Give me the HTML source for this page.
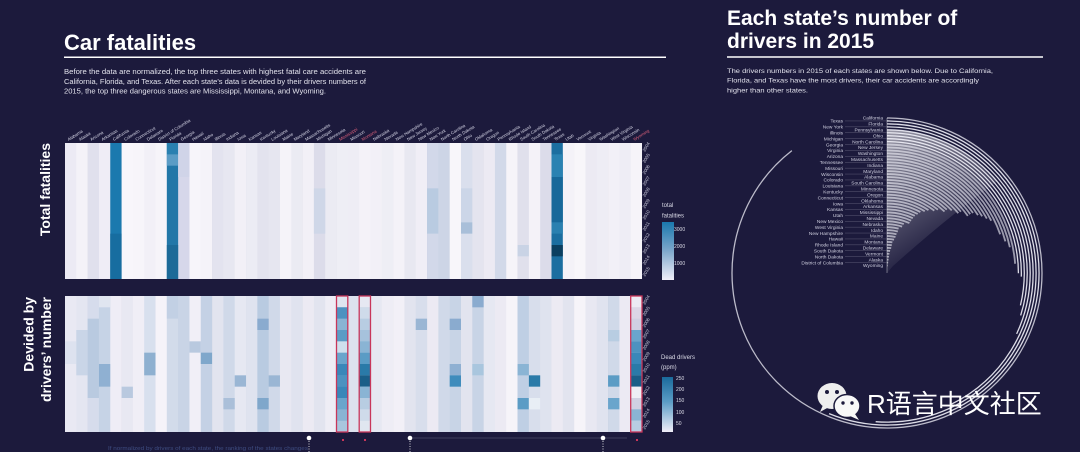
<!DOCTYPE html>
<html><head><meta charset="utf-8">
<style>html,body{margin:0;padding:0;background:#1c1a3c;}svg{display:block}</style>
</head><body>
<svg width="1080" height="452" viewBox="0 0 1080 452" xmlns="http://www.w3.org/2000/svg" font-family="'Liberation Sans', 'Noto Sans CJK SC', sans-serif">
<defs>
<linearGradient id="gTop" x1="0" y1="0" x2="0" y2="1"><stop offset="0" stop-color="#1a78ad"/><stop offset="0.5" stop-color="#7fa8cc"/><stop offset="1" stop-color="#f0eef8"/></linearGradient>
<linearGradient id="gBot" x1="0" y1="0" x2="0" y2="1"><stop offset="0" stop-color="#1a6a9c"/><stop offset="0.45" stop-color="#5b9cc5"/><stop offset="1" stop-color="#f0eef8"/></linearGradient>
<linearGradient id="gFan" gradientUnits="userSpaceOnUse" x1="895" y1="128" x2="965" y2="238"><stop offset="0" stop-color="#ffffff" stop-opacity="0.55"/><stop offset="0.55" stop-color="#ffffff" stop-opacity="0.25"/><stop offset="1" stop-color="#ffffff" stop-opacity="0"/></linearGradient>
</defs>
<rect width="1080" height="452" fill="#1c1a3c"/>

<!-- Left header -->
<text x="64" y="50" font-size="22" font-weight="bold" fill="#ffffff">Car fatalities</text>
<line x1="64" y1="57.3" x2="666" y2="57.3" stroke="#ffffff" stroke-width="1.5"/>
<g font-size="7" fill="#e2e2ec">
<text x="64" y="74" textLength="302" lengthAdjust="spacingAndGlyphs">Before the data are normalized, the top three states with highest fatal care accidents are</text>
<text x="64" y="84" textLength="302" lengthAdjust="spacingAndGlyphs">California, Florida, and Texas. After each state's data is devided by their drivers numbers of</text>
<text x="64" y="93.5" textLength="262" lengthAdjust="spacingAndGlyphs">2015, the top three dangerous states are Mississippi, Montana, and Wyoming.</text>
</g>

<!-- Right header -->
<text x="727" y="25" font-size="21" font-weight="bold" fill="#ffffff">Each state’s number of</text>
<text x="727" y="48" font-size="21" font-weight="bold" fill="#ffffff">drivers in 2015</text>
<line x1="727" y1="57" x2="1043" y2="57" stroke="#ffffff" stroke-width="1.5"/>
<g font-size="6.8" fill="#e2e2ec">
<text x="727" y="73" textLength="266" lengthAdjust="spacingAndGlyphs">The drivers numbers in 2015 of each states are shown below. Due to California,</text>
<text x="727" y="82.5" textLength="252" lengthAdjust="spacingAndGlyphs">Florida, and Texas have the most drivers, their car accidents are accordingly</text>
<text x="727" y="92.3" textLength="81" lengthAdjust="spacingAndGlyphs">higher than other states.</text>
</g>

<!-- Side labels -->
<text transform="translate(50,143) rotate(-90)" text-anchor="end" font-size="14" font-weight="bold" fill="#ffffff">Total fatalities</text>
<text transform="translate(33.5,297) rotate(-90)" text-anchor="end" font-size="14" font-weight="bold" fill="#ffffff">Devided by</text>
<text transform="translate(51,297) rotate(-90)" text-anchor="end" font-size="14" font-weight="bold" fill="#ffffff">drivers’ number</text>

<!-- Top heatmap -->
<g transform="translate(65,143) scale(11.314,11.333)">
<rect x="0" y="0" width="1.03" height="12" fill="#eceaf4"/>
<rect x="1" y="0" width="1.03" height="12" fill="#f4f2f8"/>
<rect x="2" y="0" width="1.03" height="12" fill="#e0e0ed"/>
<rect x="3" y="0" width="1.03" height="12" fill="#efedf6"/>
<rect x="4" y="0" width="1.03" height="12" fill="#1b79ae"/>
<rect x="5" y="0" width="1.03" height="12" fill="#f8f6fb"/>
<rect x="6" y="0" width="1.03" height="12" fill="#f7f5fa"/>
<rect x="7" y="0" width="1.03" height="12" fill="#f2f0f7"/>
<rect x="8" y="0" width="1.03" height="12" fill="#f6f4f9"/>
<rect x="9" y="0" width="1.03" height="12" fill="#2277a8"/>
<rect x="10" y="0" width="1.03" height="12" fill="#d6d7ea"/>
<rect x="11" y="0" width="1.03" height="12" fill="#f7f5fa"/>
<rect x="12" y="0" width="1.03" height="12" fill="#f5f3f9"/>
<rect x="13" y="0" width="1.03" height="12" fill="#e3e3ef"/>
<rect x="14" y="0" width="1.03" height="12" fill="#e7e7f1"/>
<rect x="15" y="0" width="1.03" height="12" fill="#f2f0f7"/>
<rect x="16" y="0" width="1.03" height="12" fill="#ececf4"/>
<rect x="17" y="0" width="1.03" height="12" fill="#e3e3ee"/>
<rect x="18" y="0" width="1.03" height="12" fill="#e6e6f0"/>
<rect x="19" y="0" width="1.03" height="12" fill="#f5f3f9"/>
<rect x="20" y="0" width="1.03" height="12" fill="#ebebf3"/>
<rect x="21" y="0" width="1.03" height="12" fill="#f2f0f7"/>
<rect x="22" y="0" width="1.03" height="12" fill="#dcdcea"/>
<rect x="23" y="0" width="1.03" height="12" fill="#ebebf3"/>
<rect x="24" y="0" width="1.03" height="12" fill="#eeeef5"/>
<rect x="25" y="0" width="1.03" height="12" fill="#eeedf5"/>
<rect x="26" y="0" width="1.03" height="12" fill="#f4f2f8"/>
<rect x="27" y="0" width="1.03" height="12" fill="#f2f0f7"/>
<rect x="28" y="0" width="1.03" height="12" fill="#eeeef5"/>
<rect x="29" y="0" width="1.03" height="12" fill="#f4f2f8"/>
<rect x="30" y="0" width="1.03" height="12" fill="#e8e8f1"/>
<rect x="31" y="0" width="1.03" height="12" fill="#f0eef6"/>
<rect x="32" y="0" width="1.03" height="12" fill="#d2d8e9"/>
<rect x="33" y="0" width="1.03" height="12" fill="#cdd5e6"/>
<rect x="34" y="0" width="1.03" height="12" fill="#f8f6fa"/>
<rect x="35" y="0" width="1.03" height="12" fill="#dadfed"/>
<rect x="36" y="0" width="1.03" height="12" fill="#e4e4ef"/>
<rect x="37" y="0" width="1.03" height="12" fill="#eceaf3"/>
<rect x="38" y="0" width="1.03" height="12" fill="#d2d9e9"/>
<rect x="39" y="0" width="1.03" height="12" fill="#f6f4f9"/>
<rect x="40" y="0" width="1.03" height="12" fill="#e0e0ec"/>
<rect x="41" y="0" width="1.03" height="12" fill="#f4f2f8"/>
<rect x="42" y="0" width="1.03" height="12" fill="#dcdcea"/>
<rect x="43" y="0" width="1.03" height="12" fill="#1b6ea0"/>
<rect x="44" y="0" width="1.03" height="12" fill="#f4f2f8"/>
<rect x="45" y="0" width="1.03" height="12" fill="#f8f6fa"/>
<rect x="46" y="0" width="1.03" height="12" fill="#eceaf3"/>
<rect x="47" y="0" width="1.03" height="12" fill="#eeedf5"/>
<rect x="48" y="0" width="1.03" height="12" fill="#f2f0f7"/>
<rect x="49" y="0" width="1.03" height="12" fill="#eeedf5"/>
<rect x="50" y="0" width="1" height="12" fill="#f6f4f9"/>
<rect x="4" y="8" width="1" height="4" fill="#176da0"/>
<rect x="9" y="0" width="1" height="1" fill="#2a80b0"/>
<rect x="9" y="1" width="1" height="1" fill="#5b9cc5"/>
<rect x="9" y="9" width="1" height="3" fill="#1c6a98"/>
<rect x="10" y="0" width="1" height="3" fill="#d0d4e8"/>
<rect x="22" y="4" width="1" height="4" fill="#cfd7e8"/>
<rect x="32" y="4" width="1" height="4" fill="#b9cbe1"/>
<rect x="35" y="4" width="1" height="3" fill="#ccd6e8"/>
<rect x="35" y="7" width="1" height="1" fill="#a9bfd9"/>
<rect x="40" y="9" width="1" height="1" fill="#c9d3e5"/>
<rect x="43" y="1" width="1" height="2" fill="#2a82b2"/>
<rect x="43" y="3" width="1" height="4" fill="#17689a"/>
<rect x="43" y="7" width="1" height="1" fill="#2a80b0"/>
<rect x="43" y="9" width="1" height="1" fill="#0b3f60"/>
</g>

<!-- Lower heatmap -->
<g transform="translate(65,296) scale(11.314,11.333)">
<rect x="0" y="0" width="1.03" height="12" fill="#e9e9f3"/>
<rect x="1" y="0" width="1.03" height="12" fill="#e4e6f1"/>
<rect x="2" y="0" width="1.03" height="12" fill="#d6dcec"/>
<rect x="3" y="0" width="1.03" height="12" fill="#c6d3e6"/>
<rect x="4" y="0" width="1.03" height="12" fill="#efedf6"/>
<rect x="5" y="0" width="1.03" height="12" fill="#e8e8f2"/>
<rect x="6" y="0" width="1.03" height="12" fill="#f0eef6"/>
<rect x="7" y="0" width="1.03" height="12" fill="#d8e0ee"/>
<rect x="8" y="0" width="1.03" height="12" fill="#f5f3f9"/>
<rect x="9" y="0" width="1.03" height="12" fill="#d2dbea"/>
<rect x="10" y="0" width="1.03" height="12" fill="#c9d4e6"/>
<rect x="11" y="0" width="1.03" height="12" fill="#f1eff7"/>
<rect x="12" y="0" width="1.03" height="12" fill="#c4d1e5"/>
<rect x="13" y="0" width="1.03" height="12" fill="#e2e4ef"/>
<rect x="14" y="0" width="1.03" height="12" fill="#d0d9e9"/>
<rect x="15" y="0" width="1.03" height="12" fill="#e6e8f2"/>
<rect x="16" y="0" width="1.03" height="12" fill="#dfe3ef"/>
<rect x="17" y="0" width="1.03" height="12" fill="#b9cbe1"/>
<rect x="18" y="0" width="1.03" height="12" fill="#d0d9e9"/>
<rect x="19" y="0" width="1.03" height="12" fill="#e8e8f2"/>
<rect x="20" y="0" width="1.03" height="12" fill="#e0e3ef"/>
<rect x="21" y="0" width="1.03" height="12" fill="#eceaf3"/>
<rect x="22" y="0" width="1.03" height="12" fill="#e2e4ef"/>
<rect x="23" y="0" width="1.03" height="12" fill="#eeedf5"/>
<rect x="24" y="0" width="1.03" height="12" fill="#6aa5cc"/>
<rect x="25" y="0" width="1.03" height="12" fill="#dde2ee"/>
<rect x="26" y="0" width="1.03" height="12" fill="#b8cde2"/>
<rect x="27" y="0" width="1.03" height="12" fill="#e6e8f2"/>
<rect x="28" y="0" width="1.03" height="12" fill="#eeedf5"/>
<rect x="29" y="0" width="1.03" height="12" fill="#f2f0f7"/>
<rect x="30" y="0" width="1.03" height="12" fill="#e2e4ef"/>
<rect x="31" y="0" width="1.03" height="12" fill="#d8deec"/>
<rect x="32" y="0" width="1.03" height="12" fill="#eceaf3"/>
<rect x="33" y="0" width="1.03" height="12" fill="#d0d9e9"/>
<rect x="34" y="0" width="1.03" height="12" fill="#c8d4e6"/>
<rect x="35" y="0" width="1.03" height="12" fill="#e2e4ef"/>
<rect x="36" y="0" width="1.03" height="12" fill="#c8d4e6"/>
<rect x="37" y="0" width="1.03" height="12" fill="#e6e8f2"/>
<rect x="38" y="0" width="1.03" height="12" fill="#eceaf3"/>
<rect x="39" y="0" width="1.03" height="12" fill="#f6f4f9"/>
<rect x="40" y="0" width="1.03" height="12" fill="#bfcfe4"/>
<rect x="41" y="0" width="1.03" height="12" fill="#d8deec"/>
<rect x="42" y="0" width="1.03" height="12" fill="#dfe3ef"/>
<rect x="43" y="0" width="1.03" height="12" fill="#eceaf3"/>
<rect x="44" y="0" width="1.03" height="12" fill="#e2e4ef"/>
<rect x="45" y="0" width="1.03" height="12" fill="#f6f4f9"/>
<rect x="46" y="0" width="1.03" height="12" fill="#e8e8f2"/>
<rect x="47" y="0" width="1.03" height="12" fill="#e0e3ef"/>
<rect x="48" y="0" width="1.03" height="12" fill="#d0d9e9"/>
<rect x="49" y="0" width="1.03" height="12" fill="#eceaf3"/>
<rect x="50" y="0" width="1" height="12" fill="#d0d0e2"/>
<rect x="0" y="4" width="1" height="2" fill="#dde2ef"/>
<rect x="1" y="3" width="1" height="4" fill="#c9d5e7"/>
<rect x="2" y="2" width="1" height="7" fill="#b9cae0"/>
<rect x="3" y="0" width="1" height="1" fill="#e0e5f0"/>
<rect x="3" y="6" width="1" height="2" fill="#8fb0d2"/>
<rect x="5" y="8" width="1" height="1" fill="#b9c9df"/>
<rect x="7" y="5" width="1" height="2" fill="#8eb0d0"/>
<rect x="9" y="0" width="1" height="2" fill="#c2d0e4"/>
<rect x="11" y="4" width="1" height="1" fill="#b9c9df"/>
<rect x="12" y="5" width="1" height="1" fill="#7fa7cb"/>
<rect x="14" y="9" width="1" height="1" fill="#aabfd9"/>
<rect x="15" y="7" width="1" height="1" fill="#9ab6d4"/>
<rect x="17" y="2" width="1" height="1" fill="#8aabcf"/>
<rect x="17" y="9" width="1" height="1" fill="#7fa7cb"/>
<rect x="18" y="7" width="1" height="1" fill="#9ab6d4"/>
<rect x="24" y="0" width="1" height="1" fill="#dfe6f0"/>
<rect x="24" y="1" width="1" height="1" fill="#4d92c0"/>
<rect x="24" y="2" width="1" height="1" fill="#8ab4d4"/>
<rect x="24" y="3" width="1" height="1" fill="#5b9cc5"/>
<rect x="24" y="4" width="1" height="1" fill="#cfe0ed"/>
<rect x="24" y="6" width="1" height="1" fill="#3a87b9"/>
<rect x="24" y="7" width="1" height="1" fill="#4d92c0"/>
<rect x="24" y="8" width="1" height="1" fill="#3a87b9"/>
<rect x="24" y="10" width="1" height="1" fill="#8ab4d4"/>
<rect x="24" y="11" width="1" height="1" fill="#a9c6de"/>
<rect x="26" y="0" width="1" height="1" fill="#e6e8f2"/>
<rect x="26" y="1" width="1" height="1" fill="#cfdbea"/>
<rect x="26" y="3" width="1" height="1" fill="#a6c2dc"/>
<rect x="26" y="4" width="1" height="1" fill="#8ab4d4"/>
<rect x="26" y="5" width="1" height="1" fill="#5b9cc5"/>
<rect x="26" y="6" width="1" height="1" fill="#2a7aa8"/>
<rect x="26" y="7" width="1" height="1" fill="#1a5e88"/>
<rect x="26" y="8" width="1" height="1" fill="#8ab4d4"/>
<rect x="26" y="10" width="1" height="1" fill="#cfdbea"/>
<rect x="26" y="11" width="1" height="1" fill="#e0e6f0"/>
<rect x="31" y="2" width="1" height="1" fill="#9ab6d4"/>
<rect x="34" y="2" width="1" height="1" fill="#8aabcf"/>
<rect x="34" y="6" width="1" height="1" fill="#8fb0d2"/>
<rect x="34" y="7" width="1" height="1" fill="#3f8cbc"/>
<rect x="36" y="0" width="1" height="1" fill="#8aabcf"/>
<rect x="36" y="6" width="1" height="1" fill="#a9c6de"/>
<rect x="40" y="6" width="1" height="1" fill="#8ab4d4"/>
<rect x="40" y="9" width="1" height="1" fill="#5b9cc5"/>
<rect x="41" y="7" width="1" height="1" fill="#2a7aa8"/>
<rect x="41" y="9" width="1" height="1" fill="#e8eef5"/>
<rect x="48" y="3" width="1" height="1" fill="#b8cde2"/>
<rect x="48" y="7" width="1" height="1" fill="#5b9cc5"/>
<rect x="48" y="9" width="1" height="1" fill="#6aa5cc"/>
<rect x="50" y="0" width="1" height="1" fill="#eceaf3"/>
<rect x="50" y="1" width="1" height="1" fill="#dcd6e6"/>
<rect x="50" y="3" width="1" height="1" fill="#6aa5cc"/>
<rect x="50" y="4" width="1" height="1" fill="#4d92c0"/>
<rect x="50" y="5" width="1" height="1" fill="#3a87b9"/>
<rect x="50" y="6" width="1" height="1" fill="#2a7aa8"/>
<rect x="50" y="7" width="1" height="1" fill="#1a5e88"/>
<rect x="50" y="8" width="1" height="1" fill="#eeeef5"/>
<rect x="50" y="10" width="1" height="1" fill="#8ab4d4"/>
<rect x="50" y="11" width="1" height="1" fill="#b8cde2"/>
</g>
<g fill="none" stroke="#c8365a" stroke-width="1.3">
<rect x="336.5" y="296" width="11.3" height="136"/>
<rect x="359.2" y="296" width="11.3" height="136"/>
<rect x="630.7" y="296" width="11.3" height="136"/>
</g>

<!-- Column labels -->
<g font-size="4.3" fill="#d8d8e8">
<text transform="translate(68.7,141) rotate(-32)">Alabama</text>
<text transform="translate(80,141) rotate(-32)">Alaska</text>
<text transform="translate(91.3,141) rotate(-32)">Arizona</text>
<text transform="translate(102.6,141) rotate(-32)">Arkansas</text>
<text transform="translate(113.9,141) rotate(-32)">California</text>
<text transform="translate(125.2,141) rotate(-32)">Colorado</text>
<text transform="translate(136.5,141) rotate(-32)">Connecticut</text>
<text transform="translate(147.9,141) rotate(-32)">Delaware</text>
<text transform="translate(159.2,141) rotate(-32)">District of Columbia</text>
<text transform="translate(170.5,141) rotate(-32)">Florida</text>
<text transform="translate(181.8,141) rotate(-32)">Georgia</text>
<text transform="translate(193.1,141) rotate(-32)">Hawaii</text>
<text transform="translate(204.4,141) rotate(-32)">Idaho</text>
<text transform="translate(215.7,141) rotate(-32)">Illinois</text>
<text transform="translate(227.1,141) rotate(-32)">Indiana</text>
<text transform="translate(238.4,141) rotate(-32)">Iowa</text>
<text transform="translate(249.7,141) rotate(-32)">Kansas</text>
<text transform="translate(261,141) rotate(-32)">Kentucky</text>
<text transform="translate(272.3,141) rotate(-32)">Louisiana</text>
<text transform="translate(283.6,141) rotate(-32)">Maine</text>
<text transform="translate(294.9,141) rotate(-32)">Maryland</text>
<text transform="translate(306.3,141) rotate(-32)">Massachusetts</text>
<text transform="translate(317.6,141) rotate(-32)">Michigan</text>
<text transform="translate(328.9,141) rotate(-32)">Minnesota</text>
<text transform="translate(340.2,141) rotate(-32)" fill="#d9607a">Mississippi</text>
<text transform="translate(351.5,141) rotate(-32)">Missouri</text>
<text transform="translate(362.8,141) rotate(-32)" fill="#d9607a">Montana</text>
<text transform="translate(374.1,141) rotate(-32)">Nebraska</text>
<text transform="translate(385.5,141) rotate(-32)">Nevada</text>
<text transform="translate(396.8,141) rotate(-32)">New Hampshire</text>
<text transform="translate(408.1,141) rotate(-32)">New Jersey</text>
<text transform="translate(419.4,141) rotate(-32)">New Mexico</text>
<text transform="translate(430.7,141) rotate(-32)">New York</text>
<text transform="translate(442,141) rotate(-32)">North Carolina</text>
<text transform="translate(453.3,141) rotate(-32)">North Dakota</text>
<text transform="translate(464.7,141) rotate(-32)">Ohio</text>
<text transform="translate(476,141) rotate(-32)">Oklahoma</text>
<text transform="translate(487.3,141) rotate(-32)">Oregon</text>
<text transform="translate(498.6,141) rotate(-32)">Pennsylvania</text>
<text transform="translate(509.9,141) rotate(-32)">Rhode Island</text>
<text transform="translate(521.2,141) rotate(-32)">South Carolina</text>
<text transform="translate(532.5,141) rotate(-32)">South Dakota</text>
<text transform="translate(543.9,141) rotate(-32)">Tennessee</text>
<text transform="translate(555.2,141) rotate(-32)">Texas</text>
<text transform="translate(566.5,141) rotate(-32)">Utah</text>
<text transform="translate(577.8,141) rotate(-32)">Vermont</text>
<text transform="translate(589.1,141) rotate(-32)">Virginia</text>
<text transform="translate(600.4,141) rotate(-32)">Washington</text>
<text transform="translate(611.7,141) rotate(-32)">West Virginia</text>
<text transform="translate(623.1,141) rotate(-32)">Wisconsin</text>
<text transform="translate(634.4,141) rotate(-32)" fill="#d9607a">Wyoming</text>
</g>

<!-- Y tick labels -->
<g font-size="4.5" fill="#d0d0e0">
<text transform="translate(645,152) rotate(-60)">2004</text>
<text transform="translate(645,163.3) rotate(-60)">2005</text>
<text transform="translate(645,174.7) rotate(-60)">2006</text>
<text transform="translate(645,186) rotate(-60)">2007</text>
<text transform="translate(645,197.3) rotate(-60)">2008</text>
<text transform="translate(645,208.7) rotate(-60)">2009</text>
<text transform="translate(645,220) rotate(-60)">2010</text>
<text transform="translate(645,231.3) rotate(-60)">2011</text>
<text transform="translate(645,242.7) rotate(-60)">2012</text>
<text transform="translate(645,254) rotate(-60)">2013</text>
<text transform="translate(645,265.3) rotate(-60)">2014</text>
<text transform="translate(645,276.7) rotate(-60)">2015</text>
<text transform="translate(645,305) rotate(-60)">2004</text>
<text transform="translate(645,316.3) rotate(-60)">2005</text>
<text transform="translate(645,327.7) rotate(-60)">2006</text>
<text transform="translate(645,339) rotate(-60)">2007</text>
<text transform="translate(645,350.3) rotate(-60)">2008</text>
<text transform="translate(645,361.7) rotate(-60)">2009</text>
<text transform="translate(645,373) rotate(-60)">2010</text>
<text transform="translate(645,384.3) rotate(-60)">2011</text>
<text transform="translate(645,395.7) rotate(-60)">2012</text>
<text transform="translate(645,407) rotate(-60)">2013</text>
<text transform="translate(645,418.3) rotate(-60)">2014</text>
<text transform="translate(645,429.7) rotate(-60)">2015</text>
</g>

<!-- Legends -->
<g font-size="6" fill="#dcdce8">
<text x="662" y="207">total</text>
<text x="662" y="217.5">fatalities</text>
<text x="661" y="359">Dead drivers</text>
<text x="661" y="369">(ppm)</text>
</g>
<rect x="662" y="222" width="12" height="58" fill="url(#gTop)"/>
<rect x="662" y="377" width="11" height="55" fill="url(#gBot)"/>
<g font-size="5" fill="#dcdce8">
<text x="674" y="231">3000</text>
<text x="674" y="248">2000</text>
<text x="674" y="265">1000</text>
<text x="676" y="380">250</text>
<text x="676" y="391">200</text>
<text x="676" y="402">150</text>
<text x="676" y="414">100</text>
<text x="676" y="425">50</text>
</g>

<!-- Bottom annotations -->
<line x1="410" y1="438" x2="627" y2="438" stroke="#4a4a66" stroke-width="0.8"/>
<g stroke="#ffffff" stroke-width="0.8" stroke-dasharray="1 1.5">
<line x1="309" y1="441" x2="309" y2="452"/>
<line x1="410" y1="441" x2="410" y2="452"/>
<line x1="603" y1="441" x2="603" y2="452"/>
</g>
<g fill="#ffffff">
<circle cx="309" cy="438" r="2.3"/>
<circle cx="410" cy="438" r="2.3"/>
<circle cx="603" cy="438" r="2.3"/>
</g>
<g fill="#c8365a">
<rect x="342" y="439" width="2" height="2"/>
<rect x="364" y="439" width="2" height="2"/>
<rect x="636" y="439" width="2" height="2"/>
</g>
<text x="108" y="450" font-size="5" fill="#3e4c80" textLength="200" lengthAdjust="spacingAndGlyphs">If normalized by drivers of each state, the ranking of the states changes</text>

<!-- Circle chart: fan shading -->
<path d="M887 273 L887 130 A143 143 0 0 1 997 181.6 Q950 215 893 266 Z" fill="url(#gFan)"/>
<g transform="rotate(-90 887 273)" fill="none" stroke="#f2f2fa" stroke-width="1.3" stroke-opacity="0.9">
<circle cx="887" cy="273" r="155" stroke-dasharray="871.1 2000" stroke-opacity="0.75"/>
<circle cx="887" cy="273" r="152.05" stroke-dasharray="536.9 2000"/>
<circle cx="887" cy="273" r="149.1" stroke-dasharray="479.6 2000"/>
<circle cx="887" cy="273" r="146.15" stroke-dasharray="392.6 2000"/>
<circle cx="887" cy="273" r="143.2" stroke-dasharray="287.7 2000"/>
<circle cx="887" cy="273" r="140.25" stroke-dasharray="263.4 2000"/>
<circle cx="887" cy="273" r="137.3" stroke-dasharray="248.3 2000"/>
<circle cx="887" cy="273" r="134.35" stroke-dasharray="214.6 2000"/>
<circle cx="887" cy="273" r="131.4" stroke-dasharray="206.6 2000"/>
</g>
<g transform="rotate(-90 887 273)" fill="none" stroke="#f2f2fa" stroke-width="1.8" stroke-opacity="0.6">
<circle cx="887" cy="273" r="128.45" stroke-dasharray="192.4 2000"/>
<circle cx="887" cy="273" r="125.5" stroke-dasharray="171.1 2000"/>
<circle cx="887" cy="273" r="122.55" stroke-dasharray="160.4 2000"/>
<circle cx="887" cy="273" r="119.6" stroke-dasharray="148.4 2000"/>
<circle cx="887" cy="273" r="116.65" stroke-dasharray="128.9 2000"/>
<circle cx="887" cy="273" r="113.7" stroke-dasharray="121.8 2000"/>
<circle cx="887" cy="273" r="110.75" stroke-dasharray="114.4 2000"/>
<circle cx="887" cy="273" r="107.8" stroke-dasharray="108.2 2000"/>
<circle cx="887" cy="273" r="104.85" stroke-dasharray="100.8 2000"/>
<circle cx="887" cy="273" r="101.9" stroke-dasharray="97.3 2000"/>
<circle cx="887" cy="273" r="98.95" stroke-dasharray="94.5 2000"/>
<circle cx="887" cy="273" r="96" stroke-dasharray="84.3 2000"/>
<circle cx="887" cy="273" r="93.05" stroke-dasharray="81.2 2000"/>
<circle cx="887" cy="273" r="90.1" stroke-dasharray="72.2 2000"/>
<circle cx="887" cy="273" r="87.15" stroke-dasharray="65.9 2000"/>
<circle cx="887" cy="273" r="84.2" stroke-dasharray="63.3 2000"/>
<circle cx="887" cy="273" r="81.25" stroke-dasharray="55 2000"/>
<circle cx="887" cy="273" r="78.3" stroke-dasharray="50.8 2000"/>
<circle cx="887" cy="273" r="75.35" stroke-dasharray="43.9 2000"/>
<circle cx="887" cy="273" r="72.4" stroke-dasharray="39.7 2000"/>
<circle cx="887" cy="273" r="69.45" stroke-dasharray="34.8 2000"/>
<circle cx="887" cy="273" r="66.5" stroke-dasharray="31.9 2000"/>
<circle cx="887" cy="273" r="63.55" stroke-dasharray="28.8 2000"/>
<circle cx="887" cy="273" r="60.6" stroke-dasharray="26.7 2000"/>
<circle cx="887" cy="273" r="57.65" stroke-dasharray="24.9 2000"/>
<circle cx="887" cy="273" r="54.7" stroke-dasharray="23.1 2000"/>
<circle cx="887" cy="273" r="51.75" stroke-dasharray="17.1 2000"/>
<circle cx="887" cy="273" r="48.8" stroke-dasharray="15.4 2000"/>
<circle cx="887" cy="273" r="45.85" stroke-dasharray="11.8 2000"/>
<circle cx="887" cy="273" r="42.9" stroke-dasharray="11 2000"/>
<circle cx="887" cy="273" r="39.95" stroke-dasharray="9.6 2000"/>
<circle cx="887" cy="273" r="37" stroke-dasharray="8.6 2000"/>
<circle cx="887" cy="273" r="34.05" stroke-dasharray="7.1 2000"/>
<circle cx="887" cy="273" r="31.1" stroke-dasharray="5.4 2000"/>
<circle cx="887" cy="273" r="28.15" stroke-dasharray="4.8 2000"/>
<circle cx="887" cy="273" r="25.2" stroke-dasharray="4.2 2000"/>
<circle cx="887" cy="273" r="22.25" stroke-dasharray="3.1 2000"/>
<circle cx="887" cy="273" r="19.3" stroke-dasharray="2.4 2000"/>
<circle cx="887" cy="273" r="16.35" stroke-dasharray="2 2000"/>
<circle cx="887" cy="273" r="13.4" stroke-dasharray="1.6 2000"/>
<circle cx="887" cy="273" r="10.45" stroke-dasharray="1.2 2000"/>
<circle cx="887" cy="273" r="7.5" stroke-dasharray="0.7 2000"/>
</g>
<line x1="887" y1="118" x2="887" y2="273" stroke="#ffffff" stroke-opacity="0.6" stroke-width="0.6"/>
<path d="M845 120.95H887M845 126.85H887M845 132.75H887M845 138.65H887M845 144.55H887M845 150.45H887M845 156.35H887M845 162.25H887M845 168.15H887M845 174.05H887M845 179.95H887M845 185.85H887M845 191.75H887M845 197.65H887M845 203.55H887M845 209.45H887M845 215.35H887M845 221.25H887M845 227.15H887M845 233.05H887M845 238.95H887M845 244.85H887M845 250.75H887M845 256.65H887M845 262.55H887" stroke="#d0d0e0" stroke-opacity="0.35" stroke-width="0.5" fill="none"/>
<g font-size="4.8" fill="#d0d0e0" text-anchor="end">
<text x="883" y="119.7">California</text>
<text x="843" y="122.65">Texas</text>
<text x="883" y="125.6">Florida</text>
<text x="843" y="128.55">New York</text>
<text x="883" y="131.5">Pennsylvania</text>
<text x="843" y="134.45">Illinois</text>
<text x="883" y="137.4">Ohio</text>
<text x="843" y="140.35">Michigan</text>
<text x="883" y="143.3">North Carolina</text>
<text x="843" y="146.25">Georgia</text>
<text x="883" y="149.2">New Jersey</text>
<text x="843" y="152.15">Virginia</text>
<text x="883" y="155.1">Washington</text>
<text x="843" y="158.05">Arizona</text>
<text x="883" y="161">Massachusetts</text>
<text x="843" y="163.95">Tennessee</text>
<text x="883" y="166.9">Indiana</text>
<text x="843" y="169.85">Missouri</text>
<text x="883" y="172.8">Maryland</text>
<text x="843" y="175.75">Wisconsin</text>
<text x="883" y="178.7">Alabama</text>
<text x="843" y="181.65">Colorado</text>
<text x="883" y="184.6">South Carolina</text>
<text x="843" y="187.55">Louisiana</text>
<text x="883" y="190.5">Minnesota</text>
<text x="843" y="193.45">Kentucky</text>
<text x="883" y="196.4">Oregon</text>
<text x="843" y="199.35">Connecticut</text>
<text x="883" y="202.3">Oklahoma</text>
<text x="843" y="205.25">Iowa</text>
<text x="883" y="208.2">Arkansas</text>
<text x="843" y="211.15">Kansas</text>
<text x="883" y="214.1">Mississippi</text>
<text x="843" y="217.05">Utah</text>
<text x="883" y="220">Nevada</text>
<text x="843" y="222.95">New Mexico</text>
<text x="883" y="225.9">Nebraska</text>
<text x="843" y="228.85">West Virginia</text>
<text x="883" y="231.8">Idaho</text>
<text x="843" y="234.75">New Hampshire</text>
<text x="883" y="237.7">Maine</text>
<text x="843" y="240.65">Hawaii</text>
<text x="883" y="243.6">Montana</text>
<text x="843" y="246.55">Rhode Island</text>
<text x="883" y="249.5">Delaware</text>
<text x="843" y="252.45">South Dakota</text>
<text x="883" y="255.4">Vermont</text>
<text x="843" y="258.35">North Dakota</text>
<text x="883" y="261.3">Alaska</text>
<text x="843" y="264.25">District of Columbia</text>
<text x="883" y="267.2">Wyoming</text>
</g>

<!-- Watermark -->
<g>
<ellipse cx="832" cy="396" rx="14.5" ry="13" fill="#eeeeee"/>
<path d="M823 405 L820 412 L829 407 Z" fill="#eeeeee"/>
<circle cx="827" cy="392" r="2" fill="#1c1a3c"/>
<circle cx="837" cy="392" r="2" fill="#1c1a3c"/>
<ellipse cx="847" cy="406" rx="13" ry="11.5" fill="#f8f8f8" stroke="#1c1a3c" stroke-width="1.5"/>
<path d="M855 414 L859 420 L850 416 Z" fill="#f8f8f8"/>
<circle cx="843" cy="403" r="1.7" fill="#1c1a3c"/>
<circle cx="852" cy="403" r="1.7" fill="#1c1a3c"/>
<text x="867" y="413" font-size="26" fill="#ffffff" font-family="'Liberation Sans', 'Noto Sans CJK SC', sans-serif">R语言中文社区</text>
</g>
</svg>
</body></html>
